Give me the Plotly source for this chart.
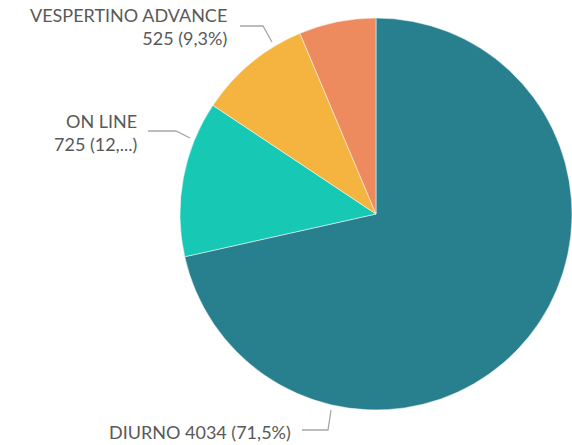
import plotly.graph_objects as go

labels = ["DIURNO", "ON LINE", "VESPERTINO ADVANCE", "OTROS"]
values = [4034, 725, 525, 358]
colors = ["#287F8E", "#17C9B5", "#F5B43F", "#EE8B5E"]
label_texts = ["DIURNO 4034 (71,5%)", "ON LINE<br>725 (12,...)", "VESPERTINO ADVANCE<br>525 (9,3%)", ""]

W, H = 572, 445
cx0, cx1 = 180, 572
cy0, cy1 = 18, 410

def px(x):
    return x / W

def py(y):
    return 1 - y / H

fig = go.Figure(go.Pie(
    labels=labels, values=values, sort=False, direction="clockwise", rotation=0,
    marker=dict(colors=colors, line=dict(color="white", width=0.5)),
    textinfo="none", hoverinfo="label+value+percent", showlegend=False,
    domain=dict(x=[px(cx0), px(cx1)], y=[py(cy1), py(cy0)]),
))

font = dict(family="Lato, Open Sans, sans-serif", size=18, color="#595959")
ann_pos = [(293, 432, "right", "middle"), (139, 132, "right", "middle"), (229, 27, "right", "middle")]
leaders = [
    [(331, 410), (328, 430), (302, 430)],
    [(190, 138), (176, 131), (148, 131)],
    [(272, 42), (263, 26), (240, 26)],
]
for (x, y, xa, ya), t in zip(ann_pos, label_texts[:3]):
    fig.add_annotation(x=px(x), y=py(y), xref="paper", yref="paper", text=t, showarrow=False,
                       xanchor=xa, yanchor=ya, align="right", font=font)
for pts in leaders:
    path = "M " + " L ".join(f"{px(a)},{py(b)}" for a, b in pts)
    fig.add_shape(type="path", path=path, xref="paper", yref="paper",
                  line=dict(color="#A6A6A6", width=1.3))

fig.update_layout(width=W, height=H, margin=dict(l=0, r=0, t=0, b=0),
                  paper_bgcolor="white", plot_bgcolor="white")
fig.write_html("out.html", config={"displayModeBar": False},
               post_script="document.body.style.margin='0';document.body.style.overflow='hidden';")
